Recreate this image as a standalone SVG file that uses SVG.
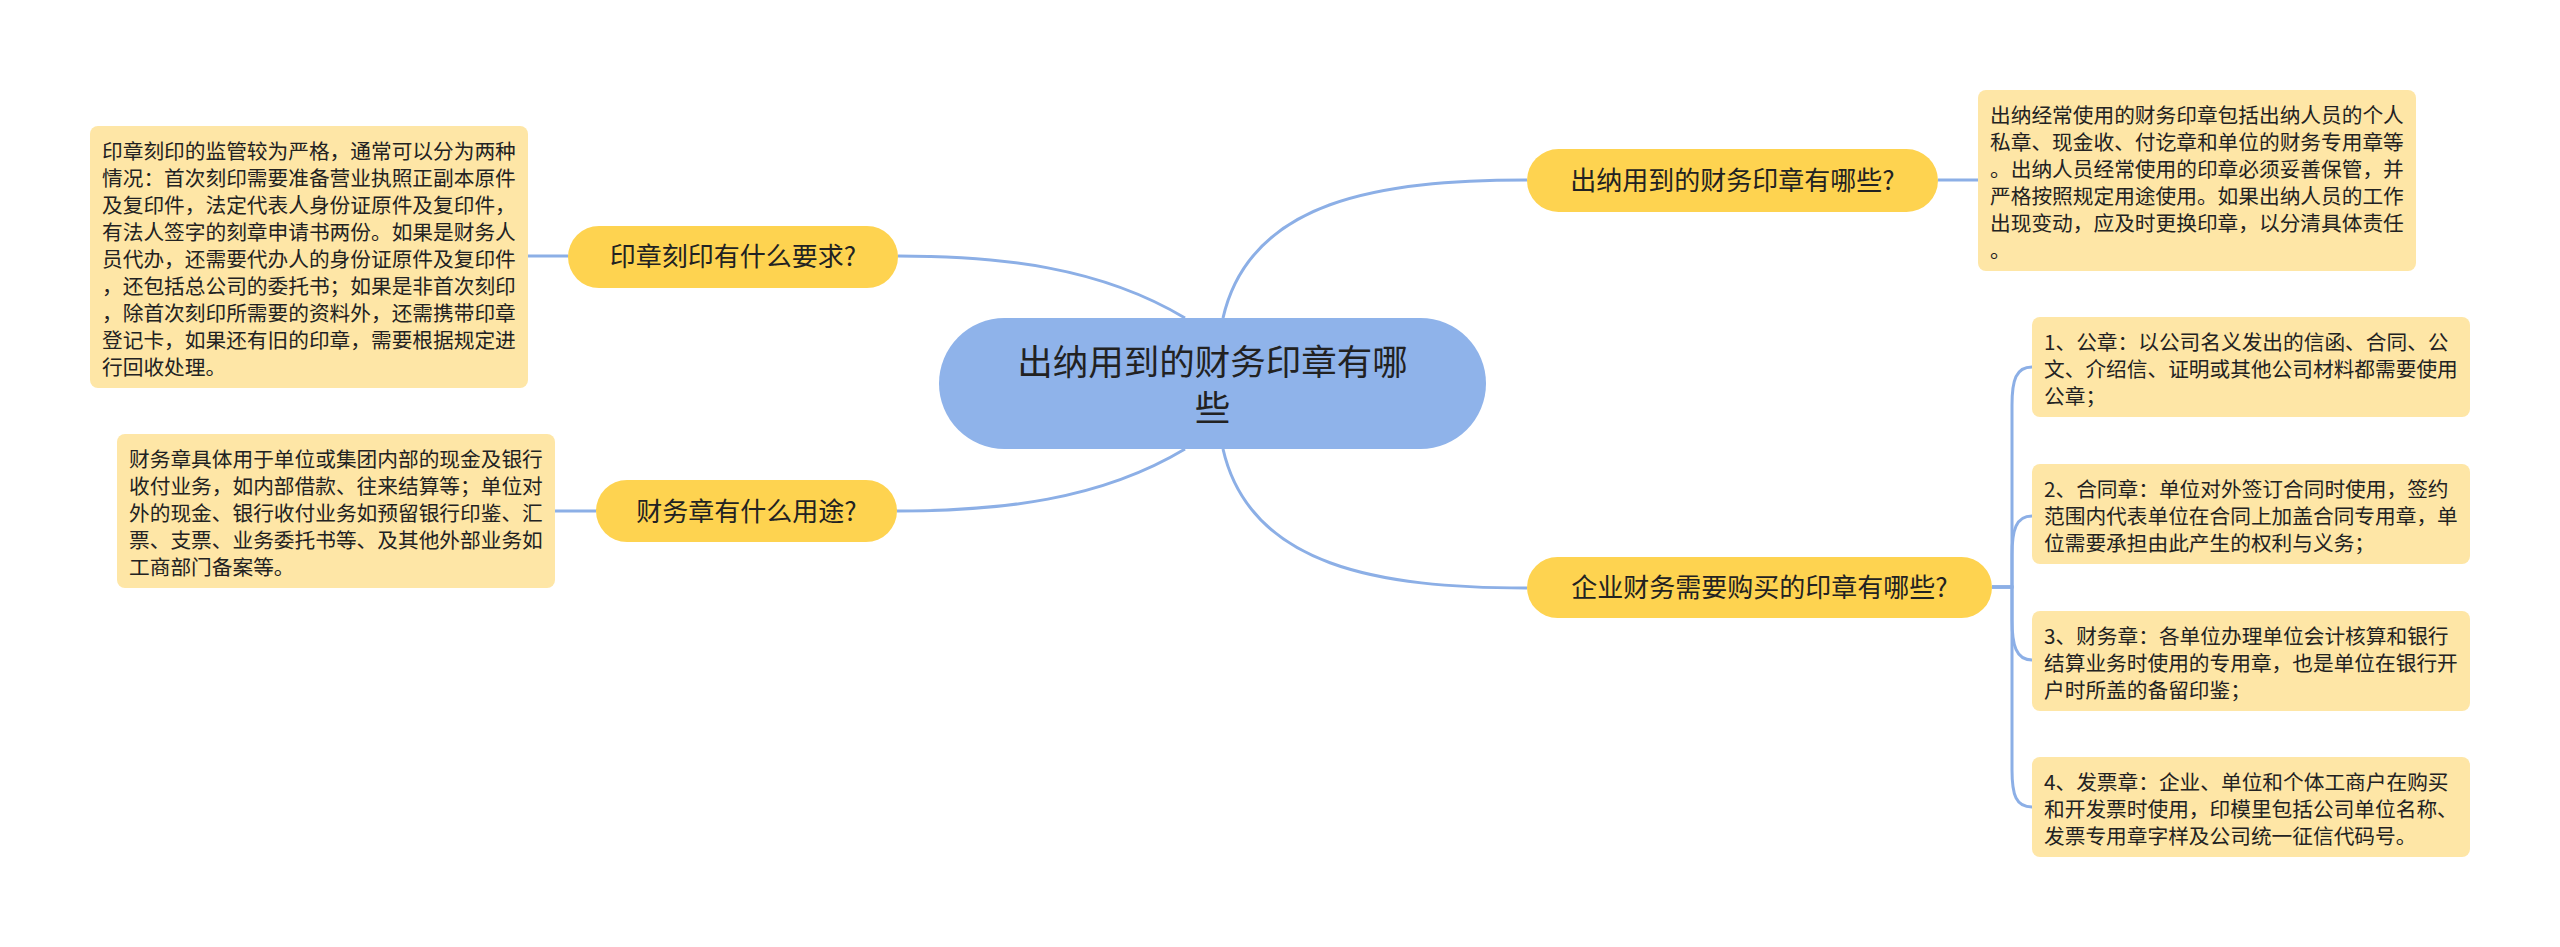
<svg xmlns="http://www.w3.org/2000/svg" width="2560" height="947" viewBox="0 0 2560 947">
<style>
.bg{fill:#ffffff}
.root{fill:#8fb3ea}
.main{fill:#fed350}
.note{fill:#fee6a6}
.link{fill:none;stroke:#8cafe6;stroke-width:3}
text{font-family:"Noto Sans CJK SC","Noto Sans",sans-serif;fill:#222222}
.tr{font-size:35.5px}
.tm{font-size:26px}
.tn{font-size:20.7px}
</style>
<rect class="bg" x="0" y="0" width="2560" height="947"/>
<g id="connectors">
<path class="link" d="M1185,318 C1100,267 1000,256 898,256"/>
<path class="link" d="M1185,449 C1100,500 1000,511 897,511"/>
<path class="link" d="M1223,318 C1250,200 1380,180 1527,180"/>
<path class="link" d="M1223,449 C1250,567 1380,588 1527,588"/>
<path class="link" d="M568,256 H528"/>
<path class="link" d="M596,511 H555"/>
<path class="link" d="M1938,180 H1978"/>
<path class="link" d="M1992,587 H2012 V405 C2012,380 2016,367 2032,367"/>
<path class="link" d="M1992,587 H2012 V555 C2012,530 2016,516 2032,516"/>
<path class="link" d="M1992,587 H2012 V620 C2012,645 2016,660 2032,660"/>
<path class="link" d="M1992,587 H2012 V770 C2012,795 2016,807 2032,807"/>
</g>
<g id="root">
<rect class="root" x="939" y="318" width="547" height="131" rx="65.5"/>
<text class="tr" x="1212.5" y="375" text-anchor="middle">出纳用到的财务印章有哪</text>
<text class="tr" x="1212.5" y="421" text-anchor="middle">些</text>
</g>
<g id="n-left1">
<rect class="main" x="568" y="226" width="330" height="62" rx="31"/>
<text class="tm" x="733" y="266" text-anchor="middle">印章刻印有什么要求?</text>
</g>
<g id="n-left2">
<rect class="main" x="596" y="480" width="301" height="62" rx="31"/>
<text class="tm" x="746.5" y="521" text-anchor="middle">财务章有什么用途?</text>
</g>
<g id="n-right1">
<rect class="main" x="1527" y="149" width="411" height="63" rx="31.5"/>
<text class="tm" x="1732.5" y="190" text-anchor="middle">出纳用到的财务印章有哪些?</text>
</g>
<g id="n-right2">
<rect class="main" x="1527" y="557" width="465" height="61" rx="30.5"/>
<text class="tm" x="1759.5" y="597" text-anchor="middle">企业财务需要购买的印章有哪些?</text>
</g>
<g id="note-left1">
<rect class="note" x="90" y="126" width="438" height="262" rx="8"/>
<text class="tn">
<tspan x="102" y="159">印章刻印的监管较为严格，通常可以分为两种</tspan>
<tspan x="102" y="186">情况：首次刻印需要准备营业执照正副本原件</tspan>
<tspan x="102" y="213">及复印件，法定代表人身份证原件及复印件，</tspan>
<tspan x="102" y="240">有法人签字的刻章申请书两份。如果是财务人</tspan>
<tspan x="102" y="267">员代办，还需要代办人的身份证原件及复印件</tspan>
<tspan x="102" y="294">，还包括总公司的委托书；如果是非首次刻印</tspan>
<tspan x="102" y="321">，除首次刻印所需要的资料外，还需携带印章</tspan>
<tspan x="102" y="348">登记卡，如果还有旧的印章，需要根据规定进</tspan>
<tspan x="102" y="375">行回收处理。</tspan>
</text>
</g>
<g id="note-left2">
<rect class="note" x="117" y="434" width="438" height="154" rx="8"/>
<text class="tn">
<tspan x="129" y="467">财务章具体用于单位或集团内部的现金及银行</tspan>
<tspan x="129" y="494">收付业务，如内部借款、往来结算等；单位对</tspan>
<tspan x="129" y="521">外的现金、银行收付业务如预留银行印鉴、汇</tspan>
<tspan x="129" y="548">票、支票、业务委托书等、及其他外部业务如</tspan>
<tspan x="129" y="575">工商部门备案等。</tspan>
</text>
</g>
<g id="note-right1">
<rect class="note" x="1978" y="90" width="438" height="181" rx="8"/>
<text class="tn">
<tspan x="1990" y="123">出纳经常使用的财务印章包括出纳人员的个人</tspan>
<tspan x="1990" y="150">私章、现金收、付讫章和单位的财务专用章等</tspan>
<tspan x="1990" y="177">。出纳人员经常使用的印章必须妥善保管，并</tspan>
<tspan x="1990" y="204">严格按照规定用途使用。如果出纳人员的工作</tspan>
<tspan x="1990" y="231">出现变动，应及时更换印章，以分清具体责任</tspan>
<tspan x="1990" y="258">。</tspan>
</text>
</g>
<g id="note-right2a">
<rect class="note" x="2032" y="317" width="438" height="100" rx="8"/>
<text class="tn">
<tspan x="2044" y="350">1、公章：以公司名义发出的信函、合同、公</tspan>
<tspan x="2044" y="377">文、介绍信、证明或其他公司材料都需要使用</tspan>
<tspan x="2044" y="404">公章；</tspan>
</text>
</g>
<g id="note-right2b">
<rect class="note" x="2032" y="464" width="438" height="100" rx="8"/>
<text class="tn">
<tspan x="2044" y="497">2、合同章：单位对外签订合同时使用，签约</tspan>
<tspan x="2044" y="524">范围内代表单位在合同上加盖合同专用章，单</tspan>
<tspan x="2044" y="551">位需要承担由此产生的权利与义务；</tspan>
</text>
</g>
<g id="note-right2c">
<rect class="note" x="2032" y="611" width="438" height="100" rx="8"/>
<text class="tn">
<tspan x="2044" y="644">3、财务章：各单位办理单位会计核算和银行</tspan>
<tspan x="2044" y="671">结算业务时使用的专用章，也是单位在银行开</tspan>
<tspan x="2044" y="698">户时所盖的备留印鉴；</tspan>
</text>
</g>
<g id="note-right2d">
<rect class="note" x="2032" y="757" width="438" height="100" rx="8"/>
<text class="tn">
<tspan x="2044" y="790">4、发票章：企业、单位和个体工商户在购买</tspan>
<tspan x="2044" y="817">和开发票时使用，印模里包括公司单位名称、</tspan>
<tspan x="2044" y="844">发票专用章字样及公司统一征信代码号。</tspan>
</text>
</g>
</svg>
